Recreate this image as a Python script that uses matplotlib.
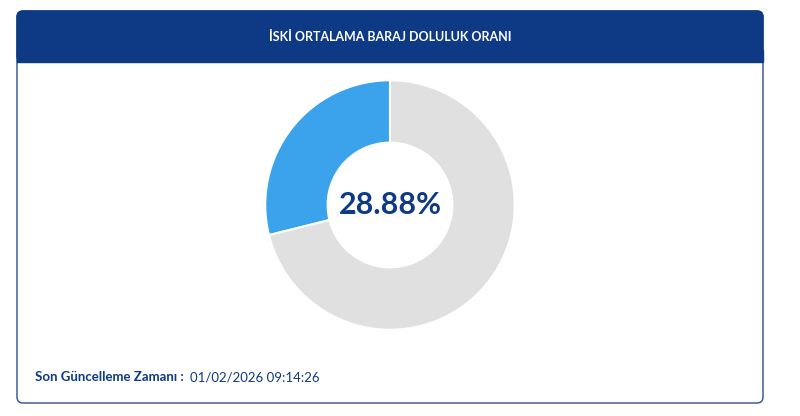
import matplotlib
matplotlib.use("Agg")
import matplotlib.pyplot as plt
from matplotlib.patches import FancyBboxPatch, Rectangle

title = "İSKİ ORTALAMA BARAJ DOLULUK ORANI"
labels = ["Dolu", "Boş"]
values = [28.88, 71.12]
colors = ["#3aa3eb", "#e0e0e0"]
update_label = "Son Güncelleme Zamanı :"
update_time = "01/02/2026 09:14:26"

W, H = 800, 416
fig = plt.figure(figsize=(W/100, H/100), dpi=100)
bg = fig.add_axes([0, 0, 1, 1])
bg.set_xlim(0, W); bg.set_ylim(H, 0); bg.axis("off")
navy = "#0e3a85"
bg.add_patch(FancyBboxPatch((17, 11), 746, 392, boxstyle="round,pad=0,rounding_size=6",
                            fc="white", ec="#2e4f8f", lw=1))
bg.add_patch(FancyBboxPatch((17, 11), 746, 51, boxstyle="round,pad=0,rounding_size=6",
                            fc=navy, ec=navy, lw=1))
bg.add_patch(Rectangle((17, 50), 746, 12, fc=navy, ec=navy, lw=1))
bg.text(390, 37, title, color="white", ha="center", va="center", fontsize=9,
        fontweight="bold", family="Lato")
bg.text(35, 377, update_label, color=navy, ha="left", va="center", fontsize=9.5,
        fontweight="bold", family="Lato")
bg.text(190, 377, update_time, color=navy, ha="left", va="center", fontsize=9.5, family="Lato")

r = 126
ax = fig.add_axes([(390 - r) / W, 1 - (205 + r) / H, 2 * r / W, 2 * r / H])
ax.pie(values, colors=colors, startangle=90, counterclock=True,
       wedgeprops=dict(width=0.5, edgecolor="white", linewidth=1.5))
ax.set_xlim(-1.01, 1.01); ax.set_ylim(-1.01, 1.01)
ax.set_aspect("equal")
ax.text(0, 0, f"{values[0]:.2f}%", ha="center", va="center", fontsize=22,
        fontweight="bold", color=navy, family="Lato")
fig.savefig("out.png", dpi=100)
